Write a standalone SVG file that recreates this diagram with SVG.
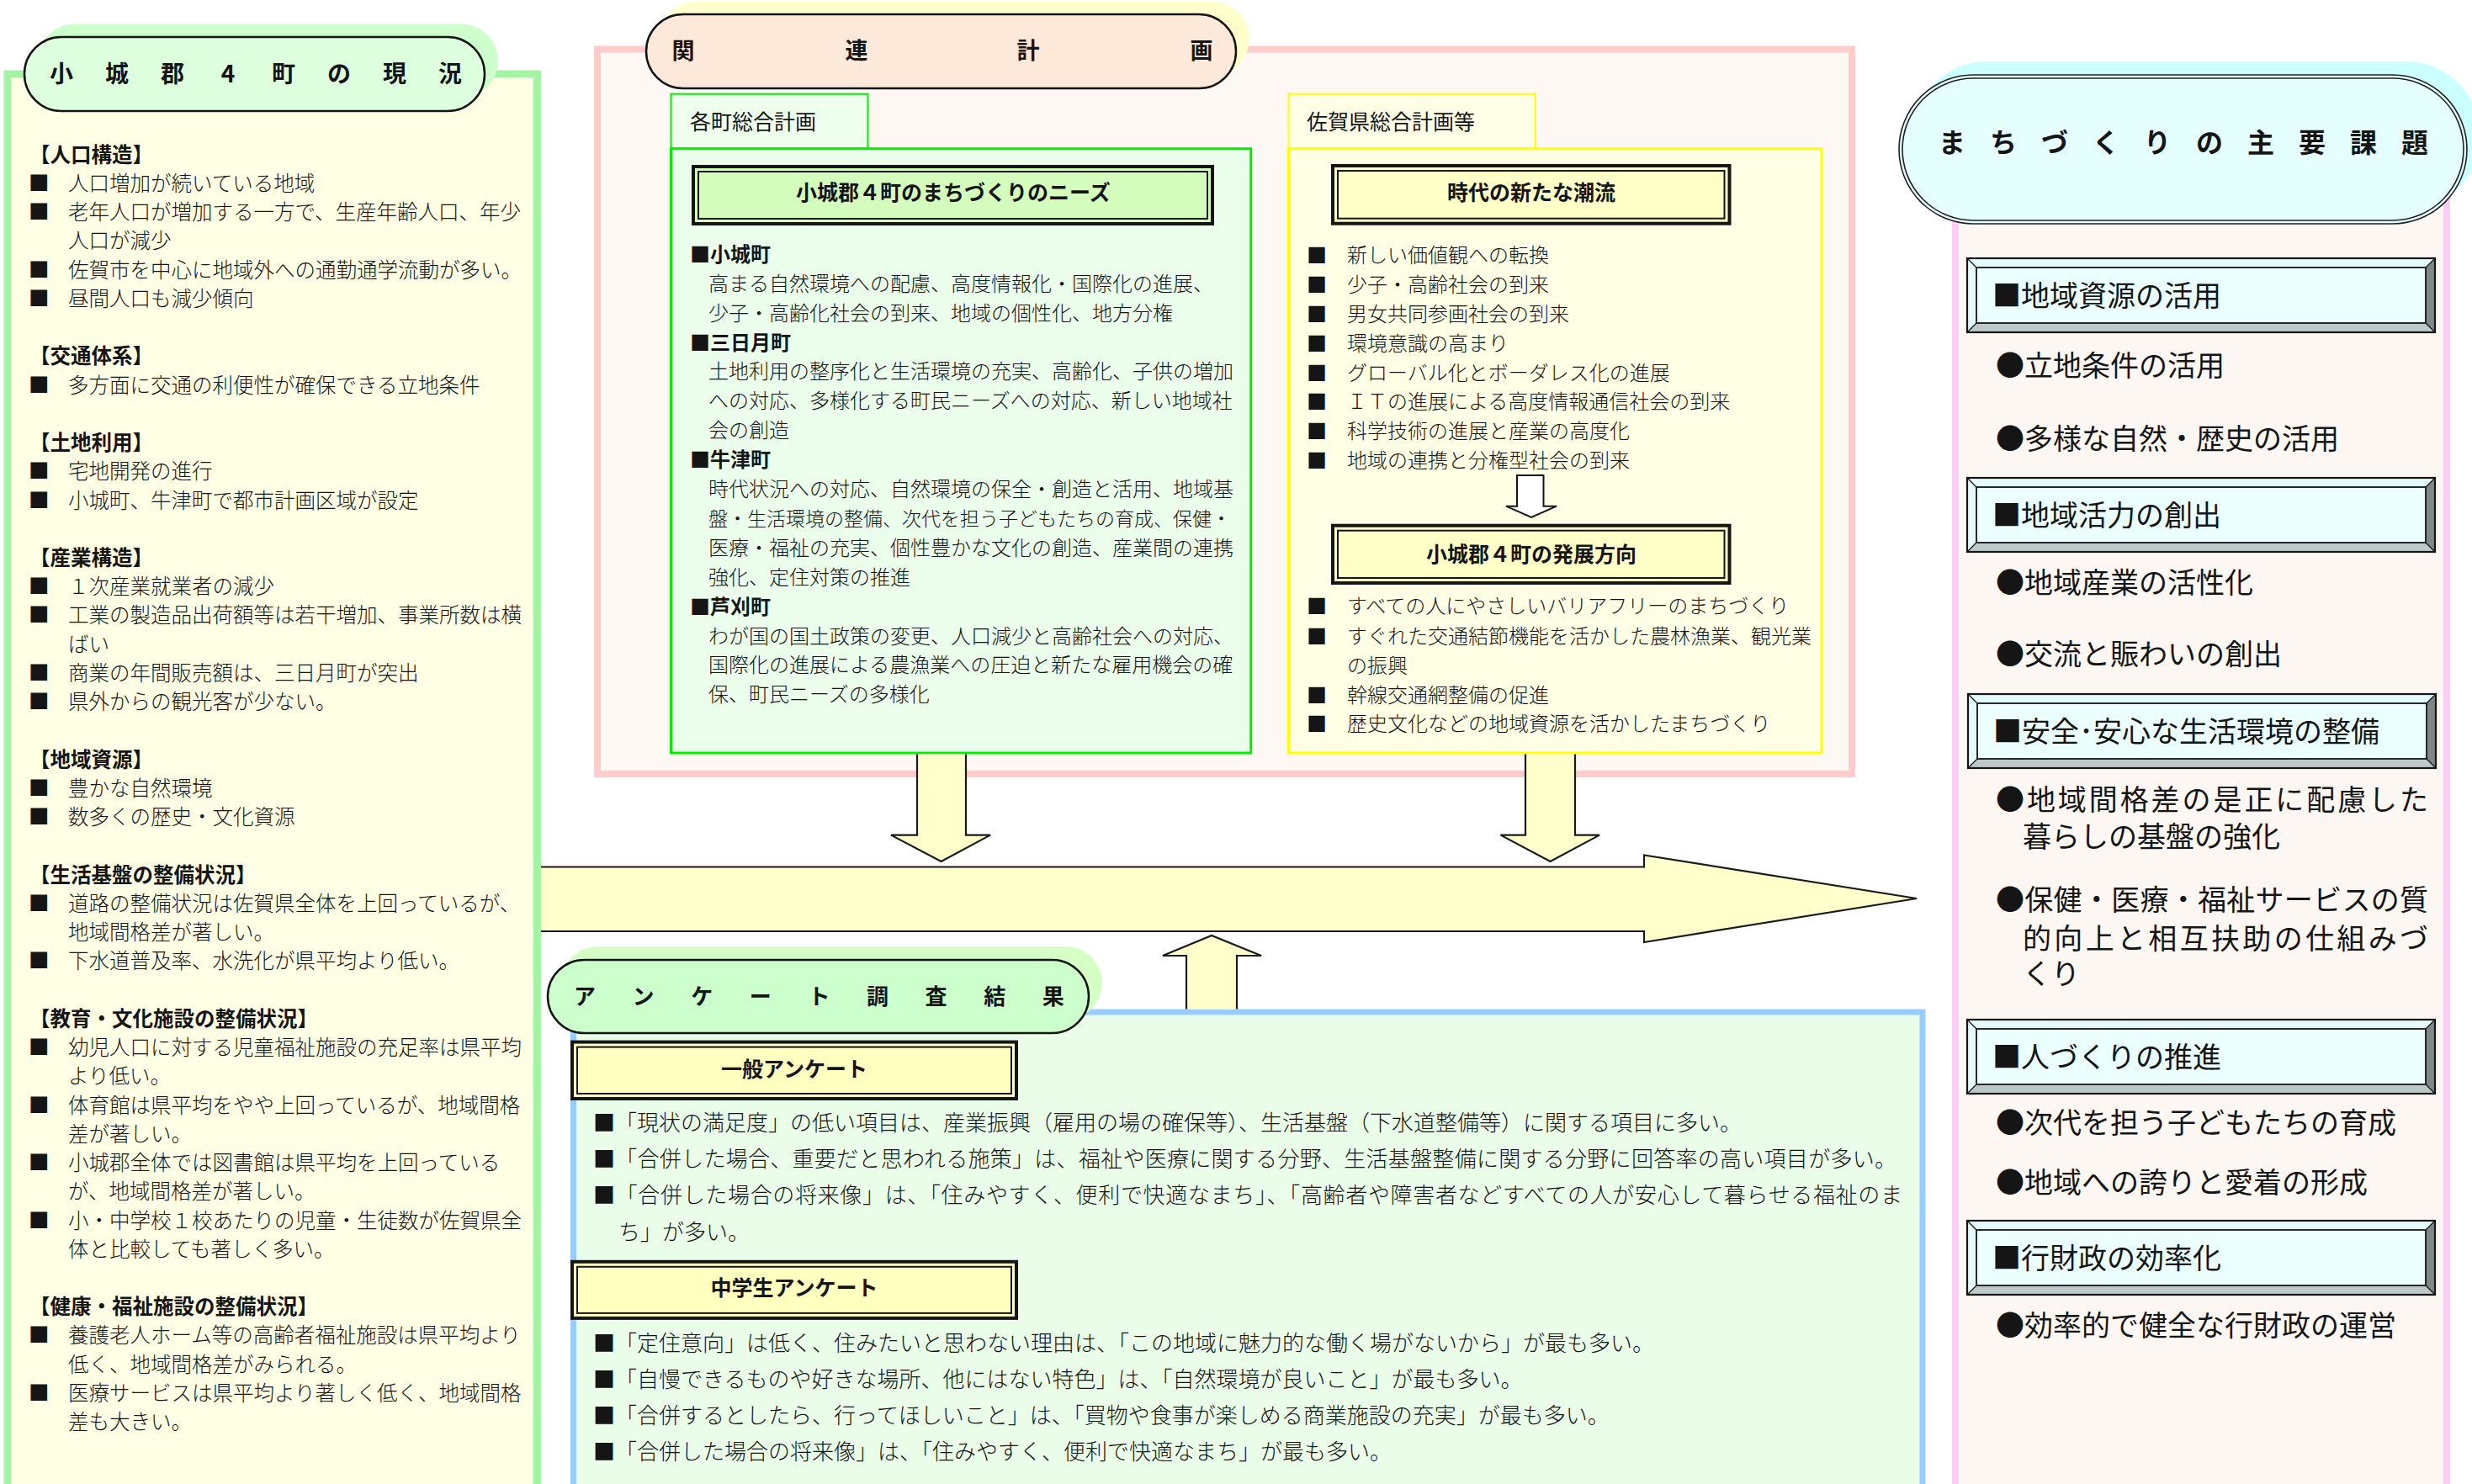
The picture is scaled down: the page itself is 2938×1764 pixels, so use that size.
<svg xmlns="http://www.w3.org/2000/svg" width="2938" height="1764" viewBox="0 0 2938 1764">
<style>
text{font-family:'Noto Sans CJK JP','Noto Sans CJK SC',sans-serif;fill:#151515}
.lb{font-size:24.5px;font-weight:300}
.lh{font-size:24.5px;font-weight:700}
.mb{font-size:24px;font-weight:300}
.mh{font-size:24px;font-weight:700}
.tt{font-size:25px;font-weight:700;text-anchor:middle}
.tab{font-size:25px;font-weight:400}
.sb{font-size:26px;font-weight:300}
.rb{font-size:34px;font-weight:400}
.pl{font-weight:700;text-anchor:middle}
.pill{stroke:#151515;stroke-width:2.5}
.dbo{stroke:#151515;stroke-width:4}
.dbi{fill:none;stroke:#151515;stroke-width:2}
.arrow{fill:#FFFFCC;stroke:none}
.aline{fill:none;stroke:#1a1a1a;stroke-width:2.2;stroke-linejoin:miter}
</style>
<defs>
<g id="bevel">
<rect x="0" y="0" width="556" height="88" fill="#E4FAFA"/>
<polygon points="545,11 556,0 556,88 545,77" fill="#7F8787"/>
<polygon points="0,88 11,77 545,77 556,88" fill="#BDC9C9"/>
<rect x="11" y="11" width="534" height="66" fill="#EBFFFF" stroke="#151515" stroke-width="1.8"/>
<path d="M0 0L11 11M556 0L545 11M0 88L11 77M556 88L545 77" stroke="#151515" stroke-width="1.3"/>
<rect x="0" y="0" width="556" height="88" fill="none" stroke="#151515" stroke-width="2.2"/>
</g>
</defs>
<rect x="0" y="0" width="2938" height="1764" fill="#FFFFFF"/>

<g id="genkyo">
<rect x="9" y="88" width="629.5" height="1720" fill="#FFFFE6" stroke="#A5F3A5" stroke-width="9"/>
<rect x="45" y="28.5" width="547" height="88" rx="44" fill="#CCFFCC"/>
<rect class="pill" x="29" y="44" width="547" height="88" rx="44" fill="#DEFFDE"/>
<text class="pl" font-size="28" x="73 139 205 271 337 403 469 535" y="98">小城郡4町の現況</text>
<text class="lh" x="35" y="192.6">【人口構造】</text>
<text class="lb" y="226.8"><tspan x="34">■</tspan><tspan x="81">人口増加が続いている地域</tspan></text>
<text class="lb" y="261.1"><tspan x="34">■</tspan><tspan x="81">老年人口が増加する一方で、生産年齢人口、年少</tspan></text>
<text class="lb" x="81" y="295.3">人口が減少</text>
<text class="lb" y="329.6"><tspan x="34">■</tspan><tspan x="81">佐賀市を中心に地域外への通勤通学流動が多い。</tspan></text>
<text class="lb" y="363.8"><tspan x="34">■</tspan><tspan x="81">昼間人口も減少傾向</tspan></text>
<text class="lh" x="35" y="432.3">【交通体系】</text>
<text class="lb" y="466.5"><tspan x="34">■</tspan><tspan x="81">多方面に交通の利便性が確保できる立地条件</tspan></text>
<text class="lh" x="35" y="535">【土地利用】</text>
<text class="lb" y="569.2"><tspan x="34">■</tspan><tspan x="81">宅地開発の進行</tspan></text>
<text class="lb" y="603.5"><tspan x="34">■</tspan><tspan x="81">小城町、牛津町で都市計画区域が設定</tspan></text>
<text class="lh" x="35" y="672">【産業構造】</text>
<text class="lb" y="706.2"><tspan x="34">■</tspan><tspan x="81">１次産業就業者の減少</tspan></text>
<text class="lb" y="740.4"><tspan x="34">■</tspan><tspan x="81">工業の製造品出荷額等は若干増加、事業所数は横</tspan></text>
<text class="lb" x="81" y="774.7">ばい</text>
<text class="lb" y="808.9"><tspan x="34">■</tspan><tspan x="81">商業の年間販売額は、三日月町が突出</tspan></text>
<text class="lb" y="843.2"><tspan x="34">■</tspan><tspan x="81">県外からの観光客が少ない。</tspan></text>
<text class="lh" x="35" y="911.6">【地域資源】</text>
<text class="lb" y="945.9"><tspan x="34">■</tspan><tspan x="81">豊かな自然環境</tspan></text>
<text class="lb" y="980.1"><tspan x="34">■</tspan><tspan x="81">数多くの歴史・文化資源</tspan></text>
<text class="lh" x="35" y="1048.6">【生活基盤の整備状況】</text>
<text class="lb" y="1082.8"><tspan x="34">■</tspan><tspan x="81">道路の整備状況は佐賀県全体を上回っているが、</tspan></text>
<text class="lb" x="81" y="1117.1">地域間格差が著しい。</text>
<text class="lb" y="1151.3"><tspan x="34">■</tspan><tspan x="81">下水道普及率、水洗化が県平均より低い。</tspan></text>
<text class="lh" x="35" y="1219.8">【教育・文化施設の整備状況】</text>
<text class="lb" y="1254"><tspan x="34">■</tspan><tspan x="81">幼児人口に対する児童福祉施設の充足率は県平均</tspan></text>
<text class="lb" x="81" y="1288.3">より低い。</text>
<text class="lb" y="1322.5"><tspan x="34">■</tspan><tspan x="81">体育館は県平均をやや上回っているが、地域間格</tspan></text>
<text class="lb" x="81" y="1356.8">差が著しい。</text>
<text class="lb" y="1391"><tspan x="34">■</tspan><tspan x="81">小城郡全体では図書館は県平均を上回っている</tspan></text>
<text class="lb" x="81" y="1425.2">が、地域間格差が著しい。</text>
<text class="lb" y="1459.5"><tspan x="34">■</tspan><tspan x="81">小・中学校１校あたりの児童・生徒数が佐賀県全</tspan></text>
<text class="lb" x="81" y="1493.7">体と比較しても著しく多い。</text>
<text class="lh" x="35" y="1562.2">【健康・福祉施設の整備状況】</text>
<text class="lb" y="1596.4"><tspan x="34">■</tspan><tspan x="81">養護老人ホーム等の高齢者福祉施設は県平均より</tspan></text>
<text class="lb" x="81" y="1630.7">低く、地域間格差がみられる。</text>
<text class="lb" y="1664.9"><tspan x="34">■</tspan><tspan x="81">医療サービスは県平均より著しく低く、地域間格</tspan></text>
<text class="lb" x="81" y="1699.2">差も大きい。</text>
</g>

<g id="kanren">
<rect x="710" y="58.5" width="1491" height="861.5" fill="#FDF8F3" stroke="#FFCCCC" stroke-width="8"/>
<rect x="784" y="2" width="701" height="88" rx="44" fill="#FFFFCC"/>
<rect class="pill" x="768" y="17" width="701" height="88" rx="44" fill="#FDE9D9"/>
<text class="pl" font-size="27" x="812 1018 1222 1428" y="70">関連計画</text>
</g>

<g id="kakucho">
<rect x="797.5" y="111.7" width="234" height="65" fill="#EEFFEE" stroke="#00F000" stroke-width="2"/>
<text class="tab" x="820" y="154">各町総合計画</text>
<rect x="797.5" y="176.7" width="689.2" height="718.3" fill="#EBFDEB" stroke="#00F000" stroke-width="3"/>
<rect class="dbo" x="824" y="198" width="617" height="68" fill="#D4FCBC"/>
<rect class="dbi" x="830" y="204" width="605" height="56"/>
<text class="tt" x="1133" y="237.5">小城郡４町のまちづくりのニーズ</text>
<text class="mh" x="820" y="310.8">■小城町</text>
<text class="mb" x="842" y="345.7">高まる自然環境への配慮、高度情報化・国際化の進展、</text>
<text class="mb" x="842" y="380.6">少子・高齢化社会の到来、地域の個性化、地方分権</text>
<text class="mh" x="820" y="415.5">■三日月町</text>
<text class="mb" x="842" y="450.4">土地利用の整序化と生活環境の充実、高齢化、子供の増加</text>
<text class="mb" x="842" y="485.3">への対応、多様化する町民ニーズへの対応、新しい地域社</text>
<text class="mb" x="842" y="520.2">会の創造</text>
<text class="mh" x="820" y="555.1">■牛津町</text>
<text class="mb" x="842" y="590">時代状況への対応、自然環境の保全・創造と活用、地域基</text>
<text class="mb" x="842" y="624.9" style="font-size:23px">盤・生活環境の整備、次代を担う子どもたちの育成、保健・</text>
<text class="mb" x="842" y="659.8">医療・福祉の充実、個性豊かな文化の創造、産業間の連携</text>
<text class="mb" x="842" y="694.7">強化、定住対策の推進</text>
<text class="mh" x="820" y="729.6">■芦刈町</text>
<text class="mb" x="842" y="764.5">わが国の国土政策の変更、人口減少と高齢社会への対応、</text>
<text class="mb" x="842" y="799.4">国際化の進展による農漁業への圧迫と新たな雇用機会の確</text>
<text class="mb" x="842" y="834.3">保、町民ニーズの多様化</text>
</g>

<g id="saga">
<rect x="1531.5" y="111.7" width="293.3" height="65" fill="#FFFFE8" stroke="#FFFF00" stroke-width="2"/>
<text class="tab" x="1553" y="154">佐賀県総合計画等</text>
<rect x="1531.5" y="176.7" width="633.5" height="718.3" fill="#FFFFE6" stroke="#FFFF00" stroke-width="3"/>
<rect class="dbo" x="1584" y="197" width="471.5" height="68.7" fill="#FFFFC8"/>
<rect class="dbi" x="1590" y="203" width="459.5" height="56.7"/>
<text class="tt" x="1820" y="237.5">時代の新たな潮流</text>
<text class="mb" y="312.4"><tspan x="1553">■</tspan><tspan x="1601">新しい価値観への転換</tspan></text>
<text class="mb" y="347.2"><tspan x="1553">■</tspan><tspan x="1601">少子・高齢社会の到来</tspan></text>
<text class="mb" y="381.9"><tspan x="1553">■</tspan><tspan x="1601">男女共同参画社会の到来</tspan></text>
<text class="mb" y="416.7"><tspan x="1553">■</tspan><tspan x="1601">環境意識の高まり</tspan></text>
<text class="mb" y="451.5"><tspan x="1553">■</tspan><tspan x="1601">グローバル化とボーダレス化の進展</tspan></text>
<text class="mb" y="486.2"><tspan x="1553">■</tspan><tspan x="1601">ＩＴの進展による高度情報通信社会の到来</tspan></text>
<text class="mb" y="521"><tspan x="1553">■</tspan><tspan x="1601">科学技術の進展と産業の高度化</tspan></text>
<text class="mb" y="555.8"><tspan x="1553">■</tspan><tspan x="1601">地域の連携と分権型社会の到来</tspan></text>
<path d="M1803 565V601.7H1790L1820 615L1850 601.7H1834.5V565Z" fill="#FFFFFF" stroke="#151515" stroke-width="2"/>
<rect class="dbo" x="1584" y="624.7" width="471.5" height="68.3" fill="#FFFFC8"/>
<rect class="dbi" x="1590" y="630.7" width="459.5" height="56.3"/>
<text class="tt" x="1820" y="668">小城郡４町の発展方向</text>
<text class="mb" y="729"><tspan x="1553">■</tspan><tspan x="1601">すべての人にやさしいバリアフリーのまちづくり</tspan></text>
<text class="mb" y="764.5"><tspan x="1553">■</tspan><tspan x="1601">すぐれた交通結節機能を活かした農林漁業、観光業</tspan></text>
<text class="mb" x="1601" y="799.5">の振興</text>
<text class="mb" y="834.5"><tspan x="1553">■</tspan><tspan x="1601">幹線交通網整備の促進</tspan></text>
<text class="mb" y="869"><tspan x="1553">■</tspan><tspan x="1601">歴史文化などの地域資源を活かしたまちづくり</tspan></text>
</g>

<g id="kadai">
<rect x="2324" y="150" width="584" height="1700" fill="#FCF7F2" stroke="#FCCEF5" stroke-width="8"/>
<rect x="2273" y="73" width="675" height="177" rx="88.5" fill="#CCFFFF"/>
<rect x="2257" y="89" width="675" height="177" rx="88.5" fill="#E5FFFF" stroke="#222" stroke-width="1.6"/>
<rect x="2261" y="93" width="667" height="169" rx="84.5" fill="none" stroke="#222" stroke-width="1.6"/>
<text class="pl" font-size="32" x="2320 2381 2442 2503 2564 2626 2687 2748 2809 2870" y="180.5">まちづくりの主要課題</text>
<use href="#bevel" x="2338" y="307"/>
<text class="rb" x="2368" y="364">■地域資源の活用</text>
<text class="rb" x="2372" y="447.4">●立地条件の活用</text>
<text class="rb" x="2372" y="533.5">●多様な自然・歴史の活用</text>
<use href="#bevel" x="2338" y="568"/>
<text class="rb" x="2368" y="625">■地域活力の創出</text>
<text class="rb" x="2372" y="704.8">●地域産業の活性化</text>
<text class="rb" x="2372" y="789.8">●交流と賑わいの創出</text>
<use href="#bevel" x="2339" y="825"/>
<text class="rb" x="2369" y="882">■安全･安心な生活環境の整備</text>
<text class="rb" x="2372" y="963" textLength="514" lengthAdjust="spacing">●地域間格差の是正に配慮した</text>
<text class="rb" x="2404" y="1007">暮らしの基盤の強化</text>
<text class="rb" x="2372" y="1081.8" textLength="514" lengthAdjust="spacing">●保健・医療・福祉サービスの質</text>
<text class="rb" x="2404" y="1127.7" textLength="482" lengthAdjust="spacing">的向上と相互扶助の仕組みづ</text>
<text class="rb" x="2404" y="1170">くり</text>
<use href="#bevel" x="2338" y="1212"/>
<text class="rb" x="2368" y="1269">■人づくりの推進</text>
<text class="rb" x="2372" y="1347">●次代を担う子どもたちの育成</text>
<text class="rb" x="2372" y="1417.5">●地域への誇りと愛着の形成</text>
<use href="#bevel" x="2338" y="1451"/>
<text class="rb" x="2368" y="1508">■行財政の効率化</text>
<text class="rb" x="2372" y="1587.8">●効率的で健全な行財政の運営</text>
</g>

<g id="enquete">
<rect x="681.5" y="1203" width="1603.5" height="700" fill="#E9FDE9" stroke="#99CCFF" stroke-width="7"/>
<rect x="667" y="1125" width="643" height="87" rx="43.5" fill="#D6FFC6"/>
<rect class="pill" x="651" y="1141" width="643" height="87" rx="43.5" fill="#CCFFCC"/>
<text class="pl" font-size="26" x="695 764.6 834.2 903.8 973.4 1043 1112.6 1182.2 1251.8" y="1193.5">アンケート調査結果</text>
<rect class="dbo" x="680" y="1238.6" width="528" height="67.4" fill="#FFFFC0"/>
<rect class="dbi" x="686" y="1244.6" width="516" height="55.4"/>
<text class="tt" x="944" y="1279.5">一般アンケート</text>
<text class="sb" x="705" y="1343.5">■「現状の満足度」の低い項目は、産業振興（雇用の場の確保等）、生活基盤（下水道整備等）に関する項目に多い。</text>
<text class="sb" x="705" y="1387" textLength="1549" lengthAdjust="spacing">■「合併した場合、重要だと思われる施策」は、福祉や医療に関する分野、生活基盤整備に関する分野に回答率の高い項目が多い。</text>
<text class="sb" x="705" y="1430" textLength="1556" lengthAdjust="spacing">■「合併した場合の将来像」は、「住みやすく、便利で快適なまち」、「高齢者や障害者などすべての人が安心して暮らせる福祉のま</text>
<text class="sb" x="735" y="1474">ち」が多い。</text>
<rect class="dbo" x="680" y="1499.8" width="528" height="67.1" fill="#FFFFC0"/>
<rect class="dbi" x="686" y="1505.8" width="516" height="55.1"/>
<text class="tt" x="944" y="1539.5">中学生アンケート</text>
<text class="sb" x="705" y="1605.5">■「定住意向」は低く、住みたいと思わない理由は、「この地域に魅力的な働く場がないから」が最も多い。</text>
<text class="sb" x="705" y="1648.5">■「自慢できるものや好きな場所、他にはない特色」は、「自然環境が良いこと」が最も多い。</text>
<text class="sb" x="705" y="1692">■「合併するとしたら、行ってほしいこと」は、「買物や食事が楽しめる商業施設の充実」が最も多い。</text>
<text class="sb" x="705" y="1735">■「合併した場合の将来像」は、「住みやすく、便利で快適なまち」が最も多い。</text>
</g>

<g id="connectors">
<path class="arrow" d="M643 1030.5H1954V1016.5L2278 1068L1954 1120V1107H643Z"/>
<path class="aline" d="M643 1030.5H1954V1016.5L2278 1068L1954 1120V1107H643"/>
<path class="arrow" d="M1090 896.5V992.6H1059L1118.6 1024L1177 992.6H1148V896.5Z"/>
<path class="aline" d="M1090 896.5V992.6H1059L1118.6 1024L1177 992.6H1148V896.5"/>
<path class="arrow" d="M1813 896.5V992.6H1783.5L1842.5 1024L1901 992.6H1872V896.5Z"/>
<path class="aline" d="M1813 896.5V992.6H1783.5L1842.5 1024L1901 992.6H1872V896.5"/>
<path class="arrow" d="M1410 1199.5V1136H1382L1440 1112L1499 1136H1470V1199.5Z"/>
<path class="aline" d="M1410 1199.5V1136H1382L1440 1112L1499 1136H1470V1199.5"/>
</g>
</svg>
